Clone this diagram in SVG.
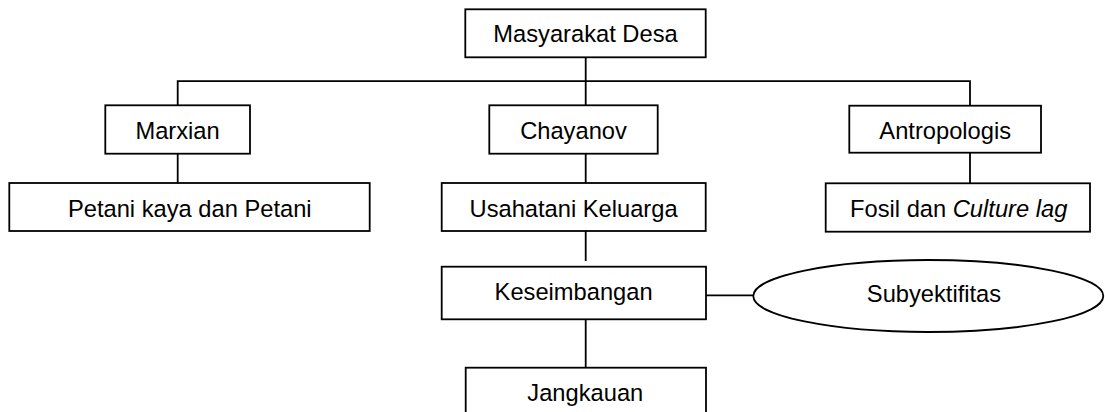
<svg xmlns="http://www.w3.org/2000/svg" width="1105" height="412" viewBox="0 0 1105 412">
  <style>
    .box { fill: #ffffff; stroke: #000000; stroke-width: 1.8; }
    .conn { fill: none; stroke: #000000; stroke-width: 1.8; }
    .lbl { font-family: "Liberation Sans", Arial, sans-serif; font-size: 23.7px; fill: #000000; text-anchor: middle; }
    .it { font-style: italic; }
  </style>
  <rect width="1105" height="412" fill="#ffffff"/>
  <g id="connectors">
    <line class="conn" x1="585.7" y1="57.3" x2="585.7" y2="105.3"/>
    <polyline class="conn" points="177.7,105.3 177.7,81.2 970,81.2 970,105.7"/>
    <line class="conn" x1="177.7" y1="153.7" x2="177.7" y2="183"/>
    <line class="conn" x1="585.7" y1="153.7" x2="585.7" y2="183"/>
    <line class="conn" x1="970" y1="152.7" x2="970" y2="183.3"/>
    <line class="conn" x1="585.7" y1="231" x2="585.7" y2="261"/>
    <line class="conn" x1="706" y1="295.3" x2="753.3" y2="295.3"/>
    <line class="conn" x1="585.7" y1="319.3" x2="585.7" y2="367.7"/>
  </g>
  <g id="node-masyarakat">
    <rect class="box" x="465.3" y="9.3" width="240.4" height="48"/>
    <text class="lbl" x="585.5" y="42.3">Masyarakat Desa</text>
  </g>
  <g id="node-marxian">
    <rect class="box" x="105.3" y="105.3" width="144.7" height="48.4"/>
    <text class="lbl" x="177.6" y="139.3">Marxian</text>
  </g>
  <g id="node-chayanov">
    <rect class="box" x="489.3" y="105.3" width="168.4" height="48.4"/>
    <text class="lbl" x="573.5" y="139">Chayanov</text>
  </g>
  <g id="node-antropologis">
    <rect class="box" x="849.3" y="105.7" width="191.7" height="47"/>
    <text class="lbl" x="945.2" y="138.5">Antropologis</text>
  </g>
  <g id="node-petani">
    <rect class="box" x="9.3" y="183" width="360.4" height="48"/>
    <text class="lbl" x="189.8" y="216.8">Petani kaya dan Petani</text>
  </g>
  <g id="node-usahatani">
    <rect class="box" x="441.7" y="183" width="264" height="48"/>
    <text class="lbl" x="573.6" y="216.7">Usahatani Keluarga</text>
  </g>
  <g id="node-fosil">
    <rect class="box" x="825.7" y="183.3" width="264.3" height="48.4"/>
    <text class="lbl" x="958.7" y="216.8">Fosil dan <tspan class="it">Culture lag</tspan></text>
  </g>
  <g id="node-keseimbangan">
    <rect class="box" x="441.7" y="266.7" width="264.3" height="52.6"/>
    <text class="lbl" x="573.6" y="300">Keseimbangan</text>
  </g>
  <g id="node-subyektifitas">
    <ellipse class="box" cx="928.3" cy="296" rx="175" ry="36"/>
    <text class="lbl" x="934" y="301.5">Subyektifitas</text>
  </g>
  <g id="node-jangkauan">
    <rect class="box" x="465.7" y="367.7" width="240.3" height="47"/>
    <text class="lbl" x="585.3" y="401">Jangkauan</text>
  </g>
</svg>
